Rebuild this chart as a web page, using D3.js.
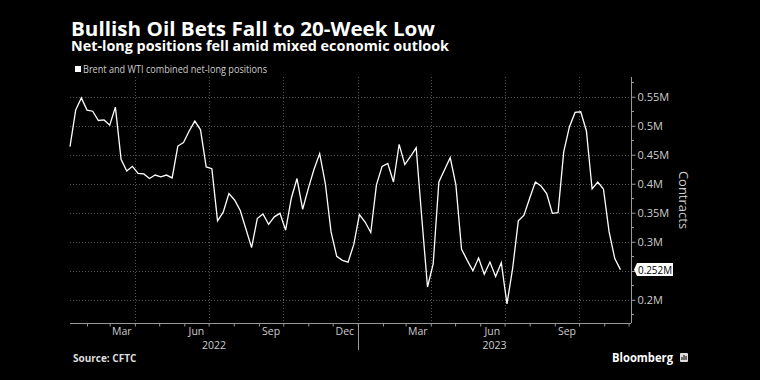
<!DOCTYPE html>
<html>
<head>
<meta charset="utf-8">
<script src="https://cdn.jsdelivr.net/npm/d3@7"></script>
<style>
  html, body { margin: 0; padding: 0; background: #000; }
  svg { display: block; }
  text { font-family: "Open Sans", "DejaVu Sans", sans-serif; }
</style>
</head>
<body>
<svg></svg>
<script>
// weekly CFTC data, first report date
let startDate = '2022-01-11'
// Brent and WTI combined net-long positions, millions of contracts
let positions = [
  0.464, 0.527, 0.548, 0.527, 0.525, 0.509, 0.510, 0.501, 0.532, 0.442,
  0.422, 0.430, 0.418, 0.417, 0.409, 0.415, 0.412, 0.415, 0.410, 0.465,
  0.471, 0.491, 0.508, 0.493, 0.429, 0.426, 0.336, 0.351, 0.383, 0.372,
  0.354, 0.322, 0.290, 0.340, 0.348, 0.330, 0.343, 0.349, 0.320, 0.375,
  0.409, 0.356, 0.392, 0.425, 0.452, 0.400, 0.317, 0.275, 0.268, 0.265,
  0.295, 0.347, 0.334, 0.316, 0.398, 0.430, 0.435, 0.403, 0.468, 0.433,
  0.447, 0.462, 0.340, 0.222, 0.262, 0.403, 0.424, 0.445, 0.398, 0.287,
  0.268, 0.250, 0.272, 0.244, 0.265, 0.240, 0.264, 0.193, 0.254, 0.336,
  0.346, 0.375, 0.403, 0.396, 0.383, 0.349, 0.350, 0.455, 0.498, 0.523,
  0.524, 0.491, 0.391, 0.403, 0.391, 0.317, 0.271, 0.252
]
let xDomain = ['2022-01-11', '2023-12-04']
let yDomain = [0.16, 0.584]

let yTicks = [0.2, 0.3, 0.35, 0.4, 0.45, 0.5, 0.55]
let yTickLabels = ['0.2M', '0.3M', '0.35M', '0.4M', '0.45M', '0.5M', '0.55M']
let yGrid = [0.2, 0.25, 0.3, 0.35, 0.4, 0.45, 0.5, 0.55]
let yMinor = [0.175, 0.225, 0.275, 0.325, 0.375, 0.425, 0.475, 0.525, 0.575]

let monthLabelDates = ['2022-03-16', '2022-06-16', '2022-09-16', '2022-12-16', '2023-03-16', '2023-06-16', '2023-09-16']
let monthLabels = ['Mar', 'Jun', 'Sep', 'Dec', 'Mar', 'Jun', 'Sep']
let quarterLines = ['2022-04-01', '2022-07-01', '2022-10-01', '2023-01-01', '2023-04-01', '2023-07-01', '2023-10-01']
let years = ['2022', '2023']
let yearBreak = '2023-01-01'

let w = 760
let h = 380
let pLeft = 70
let pRight = 631
let pTop = 77
let pBottom = 323

let parse = d3.utcParse('%Y-%m-%d')
let svg = d3.select('svg').attr('width', w).attr('height', h)
svg.append('rect').attr('width', w).attr('height', h).attr('fill', '#000')

let data = positions.map((v, i) => ({ date: d3.utcDay.offset(parse(startDate), 7 * i), value: v }))

let xScale = d3.scaleUtc().domain(xDomain.map(parse)).range([pLeft, pRight])
let yScale = d3.scaleLinear().domain(yDomain).range([pBottom, pTop])

// stretch a text to a target width, keeping its font size
let fit = (sel, width) => {
  sel.attr('textLength', width).attr('lengthAdjust', 'spacingAndGlyphs')
}

// titles
fit(svg.append('text').attr('x', 71).attr('y', 35.5).attr('fill', '#fff')
  .attr('font-size', 19).attr('font-weight', 700)
  .text('Bullish Oil Bets Fall to 20-Week Low'), 364)
fit(svg.append('text').attr('x', 71).attr('y', 51).attr('fill', '#fff')
  .attr('font-size', 13.5).attr('font-weight', 700)
  .text('Net-long positions fell amid mixed economic outlook'), 378)

// legend
svg.append('rect').attr('x', 75).attr('y', 66).attr('width', 6).attr('height', 6).attr('fill', '#fff')
fit(svg.append('text').attr('x', 83).attr('y', 72.5).attr('fill', '#ccc')
  .attr('font-size', 10).text('Brent and WTI combined net-long positions'), 184)

// gridlines
svg.append('g').selectAll('line').data(yGrid).enter().append('line')
  .attr('x1', pLeft).attr('x2', pRight)
  .attr('y1', d => Math.round(yScale(d)) + 0.5).attr('y2', d => Math.round(yScale(d)) + 0.5)
  .attr('stroke', '#555').attr('stroke-width', 1).attr('stroke-dasharray', '1,2')

svg.append('g').selectAll('line').data(quarterLines).enter().append('line')
  .attr('x1', d => Math.round(xScale(parse(d))) + 0.5).attr('x2', d => Math.round(xScale(parse(d))) + 0.5)
  .attr('y1', pTop).attr('y2', pBottom)
  .attr('stroke', '#555').attr('stroke-width', 1).attr('stroke-dasharray', '1,2')

// x axis
let xAxis = d3.axisBottom(xScale)
  .ticks(d3.utcMonth.every(1))
  .tickSize(3)
  .tickFormat('')
let gx = svg.append('g').attr('transform', 'translate(0,' + (pBottom + 0.5) + ')').call(xAxis)
gx.select('.domain').attr('stroke', '#999').attr('d', 'M' + pLeft + ',0H' + pRight)
gx.selectAll('.tick line').attr('stroke', '#999')

svg.append('g').selectAll('text').data(monthLabelDates).enter().append('text')
  .attr('x', d => xScale(parse(d)))
  .attr('y', pBottom + 12)
  .attr('text-anchor', 'middle')
  .attr('fill', '#ccc')
  .attr('font-size', 10.5)
  .text((d, i) => monthLabels[i])

let yb = xScale(parse(yearBreak))
svg.append('line').attr('x1', Math.round(yb) + 0.5).attr('x2', Math.round(yb) + 0.5)
  .attr('y1', pBottom).attr('y2', pBottom + 27).attr('stroke', '#999')
let yearCenters = [(pLeft + yb) / 2, (yb + pRight) / 2]
svg.append('g').selectAll('text').data(years).enter().append('text')
  .attr('x', (d, i) => yearCenters[i])
  .attr('y', pBottom + 26)
  .attr('text-anchor', 'middle')
  .attr('fill', '#ccc')
  .attr('font-size', 10.5)
  .text(d => d)

// y axis (right)
let yAxis = d3.axisRight(yScale)
  .tickValues(yTicks)
  .tickSize(4)
  .tickPadding(2)
  .tickFormat((d, i) => yTickLabels[i])
let gy = svg.append('g').attr('transform', 'translate(' + (pRight + 0.5) + ',0)').call(yAxis)
gy.select('.domain').attr('stroke', '#999').attr('d', 'M0,' + pTop + 'V' + pBottom)
gy.selectAll('.tick line').attr('stroke', '#999')
gy.selectAll('.tick text').attr('fill', '#ccc').attr('font-size', 11)
  .attr('font-family', '"Open Sans", "DejaVu Sans", sans-serif')

svg.append('g').selectAll('line').data(yMinor).enter().append('line')
  .attr('x1', pRight).attr('x2', pRight + 3)
  .attr('y1', d => Math.round(yScale(d)) + 0.5).attr('y2', d => Math.round(yScale(d)) + 0.5)
  .attr('stroke', '#999')
svg.append('g').selectAll('line').data([0.25]).enter().append('line')
  .attr('x1', pRight).attr('x2', pRight + 4)
  .attr('y1', d => Math.round(yScale(d)) + 0.5).attr('y2', d => Math.round(yScale(d)) + 0.5)
  .attr('stroke', '#999')

svg.append('text')
  .attr('transform', 'translate(679,' + ((pTop + pBottom) / 2) + ') rotate(90)')
  .attr('text-anchor', 'middle')
  .attr('fill', '#ccc')
  .attr('font-size', 13)
  .text('Contracts')

// line
let line = d3.line().x(d => xScale(d.date)).y(d => yScale(d.value))
svg.append('path').datum(data)
  .attr('d', line)
  .attr('fill', 'none')
  .attr('stroke', '#fff')
  .attr('stroke-width', 1.3)
  .attr('stroke-linejoin', 'miter')

// last value label
let last = data[data.length - 1]
let ly = yScale(last.value)
svg.append('path')
  .attr('d', 'M' + (pRight + 3) + ',' + ly + 'L' + (pRight + 6) + ',' + (ly - 6.5) + 'H673V' + (ly + 6.5) + 'H' + (pRight + 6) + 'Z')
  .attr('fill', '#fff')
fit(svg.append('text').attr('x', pRight + 7).attr('y', ly + 4).attr('fill', '#000')
  .attr('font-size', 11).text(d3.format('.3f')(last.value) + 'M'), 34)

// footer
svg.append('text').attr('x', 73).attr('y', 362).attr('fill', '#ddd')
  .attr('font-size', 10).attr('font-weight', 700).text('Source: CFTC')
fit(svg.append('text').attr('x', 612).attr('y', 362).attr('fill', '#fff')
  .attr('font-size', 12.5).attr('font-weight', 700).text('Bloomberg'), 61)
svg.append('rect').attr('x', 680).attr('y', 353).attr('width', 8).attr('height', 9).attr('rx', 1).attr('fill', '#ddd')
svg.append('g').selectAll('rect').data([3, 5, 4]).enter().append('rect')
  .attr('x', (d, i) => 681.5 + i * 2).attr('y', d => 360 - d).attr('width', 1).attr('height', d => d).attr('fill', '#000')
</script>
</body>
</html>
